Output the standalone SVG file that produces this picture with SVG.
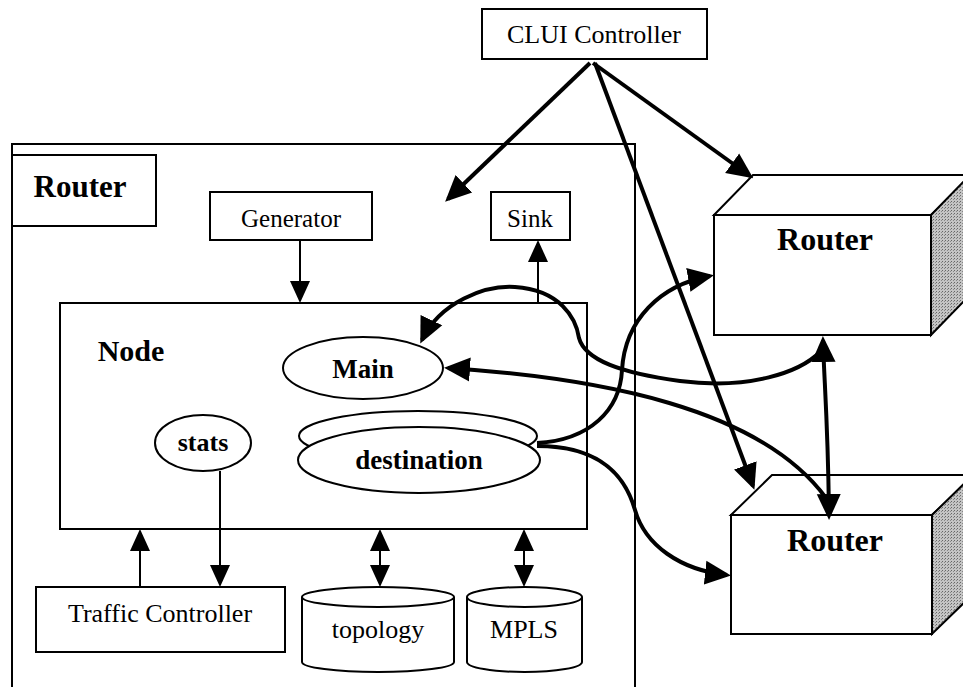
<svg xmlns="http://www.w3.org/2000/svg" width="963" height="687" viewBox="0 0 963 687">
<defs>
<style>
.box{fill:#fff;stroke:#000;stroke-width:2}
.t{font-family:"Liberation Serif","Times New Roman",serif;fill:#000;text-anchor:middle}
.b{font-weight:bold}
.thin{fill:none;stroke:#000;stroke-width:2}
.thick{fill:none;stroke:#000;stroke-width:4}
</style>
<pattern id="stip" width="3" height="3" patternUnits="userSpaceOnUse">
<rect width="3" height="3" fill="#c4c4c4"/>
<rect width="1" height="1" fill="#666"/>
<rect x="2" y="1" width="1" height="1" fill="#888"/>
</pattern>
<marker id="ah" markerUnits="userSpaceOnUse" markerWidth="26" markerHeight="26" refX="22" refY="13" orient="auto-start-reverse" viewBox="0 0 26 26">
<path d="M0,1 L26,13 L0,25 z" fill="#000"/>
</marker>
<marker id="as" markerUnits="userSpaceOnUse" markerWidth="22" markerHeight="22" refX="20" refY="11" orient="auto-start-reverse" viewBox="0 0 22 22">
<path d="M0,1 L22,11 L0,21 z" fill="#000"/>
</marker>
</defs>
<rect width="963" height="687" fill="#fff"/>

<g id="outer-router">
<path d="M12,690 V144 H635 V690" class="thin"/>
</g>
<g id="router-label">
<rect x="12" y="155" width="144" height="71" class="box"/>
<text x="80" y="197" class="t b" font-size="31">Router</text>
</g>
<g id="clui">
<rect x="482" y="9" width="225" height="50" class="box"/>
<text x="594" y="43" class="t" font-size="26">CLUI Controller</text>
</g>
<g id="generator">
<rect x="210" y="192" width="162" height="48" class="box"/>
<text x="291" y="227" class="t" font-size="25">Generator</text>
</g>
<g id="sink">
<rect x="491" y="192" width="79" height="48" class="box"/>
<text x="530" y="227" class="t" font-size="25">Sink</text>
</g>
<g id="node">
<rect x="60" y="303" width="527" height="226" class="box"/>
<text x="131" y="361" class="t b" font-size="30">Node</text>
</g>
<g id="main">
<ellipse cx="363" cy="368" rx="80" ry="31" class="box"/>
<text x="363" y="378" class="t b" font-size="27">Main</text>
</g>
<g id="destination">
<ellipse cx="418" cy="436" rx="119" ry="25" class="box"/>
<ellipse cx="419" cy="460" rx="121" ry="33" class="box"/>
<text x="419" y="469" class="t b" font-size="27">destination</text>
</g>
<g id="stats">
<ellipse cx="203" cy="443" rx="48" ry="28" class="box"/>
<text x="203" y="451" class="t b" font-size="26">stats</text>
</g>
<g id="traffic-controller">
<rect x="36" y="587" width="249" height="65" class="box"/>
<text x="160" y="622" class="t" font-size="26">Traffic Controller</text>
</g>
<g id="topology">
<path d="M302,597 V662 A76,10 0 0 0 454,662 V597" class="box"/>
<ellipse cx="378" cy="597" rx="76" ry="10" class="box"/>
<text x="378" y="638" class="t" font-size="26">topology</text>
</g>
<g id="mpls">
<path d="M467,597 V662 A57.5,10 0 0 0 582,662 V597" class="box"/>
<ellipse cx="524.5" cy="597" rx="57.5" ry="10" class="box"/>
<text x="524" y="638" class="t" font-size="26">MPLS</text>
</g>
<g id="router1">
<polygon points="714,215 753,175 975,175 931,215" class="box"/>
<polygon points="931,215 970,175 970,295 931,335" fill="url(#stip)" stroke="#000" stroke-width="2"/>
<rect x="714" y="215" width="217" height="120" class="box"/>
<text x="825" y="250" class="t b" font-size="32">Router</text>
</g>
<g id="router2">
<polygon points="731,515 772,475 975,475 932,515" class="box"/>
<polygon points="932,515 973,475 973,594 932,634" fill="url(#stip)" stroke="#000" stroke-width="2"/>
<rect x="731" y="515" width="201" height="119" class="box"/>
<text x="835" y="551" class="t b" font-size="32">Router</text>
</g>

<g id="connectors">
<line x1="300" y1="240" x2="300" y2="301" class="thin" marker-end="url(#as)"/>
<line x1="538" y1="303" x2="538" y2="242" class="thin" marker-end="url(#as)"/>
<line x1="140" y1="587" x2="140" y2="531" class="thin" marker-end="url(#as)"/>
<line x1="220" y1="471" x2="220" y2="585" class="thin" marker-end="url(#as)"/>
<line x1="380" y1="531" x2="380" y2="585" class="thin" marker-start="url(#as)" marker-end="url(#as)"/>
<line x1="524" y1="531" x2="524" y2="585" class="thin" marker-start="url(#as)" marker-end="url(#as)"/>
<line x1="590" y1="63" x2="448" y2="199" class="thick" marker-end="url(#ah)"/>
<line x1="593" y1="63" x2="750" y2="176" class="thick" marker-end="url(#ah)"/>
<line x1="595" y1="63" x2="753" y2="486" class="thick" marker-end="url(#ah)"/>
<path d="M422,340 C440,302 485,285 515,287 C560,290 576,318 579,338 C585,360 620,373 680,381 C750,390 800,372 820,352" class="thick" marker-start="url(#ah)"/>
<path d="M823,340 C824,380 828,420 829,516" class="thick" marker-start="url(#ah)" marker-end="url(#ah)"/>
<path d="M448,368 C600,378 760,408 826,498" class="thick" marker-start="url(#ah)"/>
<path d="M537,443 C590,440 620,410 622,370 C625,320 660,285 710,276" class="thick" marker-end="url(#ah)"/>
<path d="M537,446 C600,446 625,475 635,510 C645,545 680,570 727,575" class="thick" marker-end="url(#ah)"/>
</g>
</svg>
